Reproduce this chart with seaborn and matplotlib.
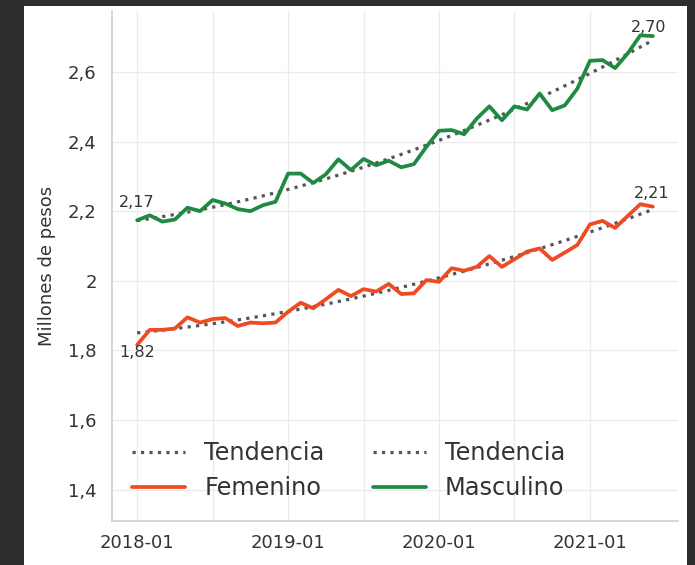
import numpy as np
import pandas as pd
import seaborn as sns
import matplotlib
matplotlib.use("Agg")
import matplotlib.pyplot as plt
from matplotlib.patches import Rectangle

# ---- data (millions of pesos, monthly 2018-01 .. 2021-06) ----
meses = pd.date_range("2018-01-01", periods=42, freq="MS").strftime("%Y-%m").tolist()
femenino = [1.816, 1.859, 1.859, 1.863, 1.895, 1.880, 1.890, 1.893, 1.870, 1.880,
            1.878, 1.880, 1.911, 1.937, 1.921, 1.947, 1.974, 1.956, 1.976, 1.969,
            1.991, 1.962, 1.964, 2.002, 1.997, 2.036, 2.029, 2.040, 2.071, 2.040,
            2.062, 2.084, 2.093, 2.060, 2.081, 2.103, 2.162, 2.172, 2.152, 2.186,
            2.220, 2.213]
masculino = [2.174, 2.188, 2.170, 2.176, 2.210, 2.200, 2.232, 2.222, 2.206, 2.200,
             2.217, 2.227, 2.308, 2.308, 2.281, 2.306, 2.349, 2.318, 2.350, 2.332,
             2.345, 2.326, 2.335, 2.385, 2.431, 2.433, 2.421, 2.466, 2.501, 2.461,
             2.501, 2.492, 2.538, 2.490, 2.504, 2.552, 2.632, 2.634, 2.611, 2.653,
             2.705, 2.703]
yticks = [1.4, 1.6, 1.8, 2.0, 2.2, 2.4, 2.6]
ytick_labels = ["1,4", "1,6", "1,8", "2", "2,2", "2,4", "2,6"]
xtick_labels = ["2018-01", "2019-01", "2020-01", "2021-01"]

idx = np.arange(len(meses))

C_FEM = "#ef4a22"
C_MAS = "#1f8a41"
C_TREND = "#555555"
C_TEXT = "#333333"

sns.set_theme(style="whitegrid")
plt.rcParams["font.family"] = ["DejaVu Sans"]

fig = plt.figure(figsize=(6.95, 5.65), dpi=100, facecolor="#2b2d2e")
bg = Rectangle((24 / 695, 0), (687 - 24) / 695, (565 - 6) / 565,
               transform=fig.transFigure, facecolor="white",
               edgecolor="none", zorder=-10)
fig.add_artist(bg)
ax = fig.add_axes([112 / 695, 44 / 565, 566 / 695, 510 / 565])
ax.set_zorder(1)
ax.set_facecolor("white")

sns.regplot(x=idx, y=femenino, scatter=False, ci=None, truncate=True, order=2, ax=ax,
            line_kws=dict(color=C_TREND, lw=2.3, ls=":"))
sns.regplot(x=idx, y=masculino, scatter=False, ci=None, truncate=True, order=2, ax=ax,
            line_kws=dict(color=C_TREND, lw=2.3, ls=":"))
sns.lineplot(x=idx, y=femenino, color=C_FEM, lw=2.7, ax=ax)
sns.lineplot(x=idx, y=masculino, color=C_MAS, lw=2.7, ax=ax)

lines = ax.get_lines()
trend_f, trend_m, line_f, line_m = lines[0], lines[1], lines[2], lines[3]

def fmt(v):
    return f"{v:.2f}".replace(".", ",")

ann = dict(textcoords="offset points", ha="center", fontsize=11.5, color=C_TEXT)
ax.annotate(fmt(masculino[0]), (idx[0], masculino[0]), xytext=(0, 7), va="bottom", **ann)
ax.annotate(fmt(femenino[0]), (idx[0], femenino[0]), xytext=(0, 0), va="top", **ann)
ax.annotate(fmt(masculino[-1]), (idx[-1], masculino[-1]), xytext=(-3, 1), va="bottom", **ann)
ax.annotate(fmt(femenino[-1]), (idx[-1], femenino[-1]), xytext=(-1, 4), va="bottom", **ann)

ax.set_xlim(-2.0, 43.0)
ax.set_ylim(1.31, 2.775)
ax.set_xticks([0, 12, 24, 36])
ax.set_xticklabels(xtick_labels)
ax.set_xticks([6, 18, 30], minor=True)
ax.set_yticks(yticks)
ax.set_yticklabels(ytick_labels)
ax.grid(True, which="both", color="#ebebeb", lw=0.9)
ax.tick_params(axis="both", which="both", length=0, labelsize=13, colors=C_TEXT)
ax.tick_params(axis="y", pad=11)
ax.tick_params(axis="x", pad=9)
ax.set_ylabel("Millones de pesos", fontsize=13, color=C_TEXT)
ax.yaxis.set_label_coords(-0.099, 0.5)
ax.set_xlabel("")

for s in ["top", "right"]:
    ax.spines[s].set_visible(False)
for s in ["left", "bottom"]:
    ax.spines[s].set_color("#d0d0d0")
    ax.spines[s].set_linewidth(1.2)

leg = ax.legend([trend_f, line_f, trend_m, line_m],
                ["Tendencia", "Femenino", "Tendencia", "Masculino"],
                ncol=2, loc="lower left", bbox_to_anchor=(0.019, 0.022),
                borderaxespad=0, frameon=False, fontsize=17.3,
                handlelength=2.2, labelspacing=0.45, columnspacing=2.0)
for t in leg.get_texts():
    t.set_color(C_TEXT)

fig.savefig("out.png", dpi=100, facecolor=fig.get_facecolor())
